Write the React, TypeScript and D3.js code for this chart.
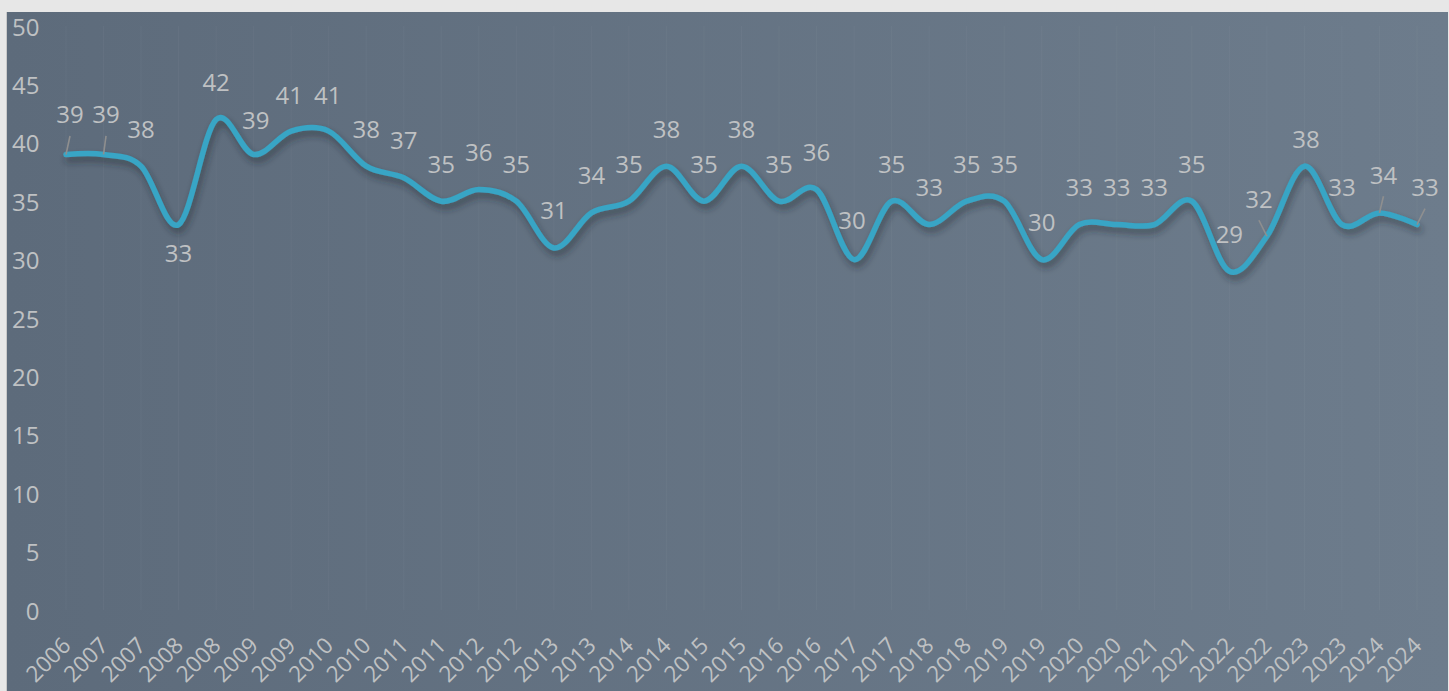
import React from "react";
import * as d3 from "d3";

// Half-yearly readings, labelled by year
const categories: string[] = [
  "2006", "2007", "2007", "2008", "2008", "2009", "2009", "2010", "2010",
  "2011", "2011", "2012", "2012", "2013", "2013", "2014", "2014", "2015",
  "2015", "2016", "2016", "2017", "2017", "2018", "2018", "2019", "2019",
  "2020", "2020", "2021", "2021", "2022", "2022", "2023", "2023", "2024", "2024",
];

const values: number[] = [
  39, 39, 38, 33, 42, 39, 41, 41, 38, 37, 35, 36, 35, 31, 34, 35, 38, 35, 38,
  35, 36, 30, 35, 33, 35, 35, 30, 33, 33, 33, 35, 29, 32, 38, 33, 34, 33,
];

const yTicks: number[] = [0, 5, 10, 15, 20, 25, 30, 35, 40, 45, 50];

// Per-label nudges (px) for data labels that sit off the default spot above the point
const labelNudges: Record<number, [number, number]> = {
  0: [4, -40.5],
  1: [2.5, -40.5],
  3: [0, 27.5],
  5: [2, -34.5],
  6: [-2, -37],
  7: [-1, -37],
  21: [-2, -40],
  32: [-8, -38],
  33: [1.5, -28],
  35: [4, -38.6],
  36: [8, -38],
};
// Labels that were pulled away from their point and get a leader line
const leaderIdx: number[] = [0, 1, 32, 35, 36];

const W = 1449;
const H = 691;
const FONT = "'Open Sans', 'Noto Sans', sans-serif";
const TEXT = "#bfc1c3";

export default function App() {
  const idx = values.map((_, i) => i);
  const x = d3.scalePoint<number>().domain(idx).range([66, 1417]);
  const y = d3.scaleLinear().domain([0, 50]).range([610, 26]);

  const line = d3
    .line<number>()
    .x((_, i) => x(i) as number)
    .y((d) => y(d))
    .curve(d3.curveCatmullRom.alpha(0));

  const path = line(values) || "";

  return (
    <div style={{ position: "fixed", left: 0, top: 0, width: W, height: H, background: "#e7e7e7" }}>
      <svg width={W} height={H} style={{ display: "block" }}>
        <defs>
          <linearGradient id="bg" x1="0" y1="0" x2="1" y2="0">
            <stop offset="0%" stopColor="#5d6b7b" />
            <stop offset="100%" stopColor="#6d7c8c" />
          </linearGradient>
          <filter id="shadow" x="-5%" y="-30%" width="110%" height="160%">
            <feDropShadow dx="2" dy="5" stdDeviation="3.5" floodColor="#1c2630" floodOpacity="0.55" />
          </filter>
        </defs>

        <rect x={0} y={0} width={W} height={H} fill="#e7e7e7" />
        <rect x={6} y={12} width={W - 7} height={H - 12} fill="#c9c9c9" />
        <rect x={7} y={12} width={W - 8} height={H - 12} fill="url(#bg)" />

        {/* vertical category gridlines */}
        <g>
          {idx.map((i) => (
            <line
              key={"g" + i}
              x1={x(i)}
              x2={x(i)}
              y1={y(50)}
              y2={y(0)}
              stroke="#ffffff"
              strokeOpacity={0.035}
              strokeWidth={1}
            />
          ))}
        </g>

        {/* value axis labels */}
        <g fontFamily={FONT} fontSize={24} fill={TEXT}>
          {yTicks.map((t) => (
            <text key={"y" + t} x={39.5} y={y(t)} textAnchor="end" dominantBaseline="central">
              {t}
            </text>
          ))}
        </g>

        {/* category axis labels */}
        <g fontFamily={FONT} fontSize={22.5} fill={TEXT}>
          {categories.map((c, i) => (
            <text
              key={"x" + i}
              transform={`translate(${(x(i) as number) + 6},647) rotate(-45)`}
              textAnchor="end"
            >
              {c}
            </text>
          ))}
        </g>

        {/* series line */}
        <path
          d={path}
          fill="none"
          stroke="#37a5c5"
          strokeWidth={5.5}
          strokeLinecap="round"
          strokeLinejoin="round"
          filter="url(#shadow)"
        />

        {/* leader lines */}
        <g stroke="#8f8f8f" strokeWidth={1.6}>
          {leaderIdx.map((i) => {
            const [dx, dy] = labelNudges[i] || [0, -38];
            const px = x(i) as number;
            const py = y(values[i]);
            return <line key={"l" + i} x1={px + dx} y1={py + dy + 22} x2={px} y2={py} />;
          })}
        </g>

        {/* data labels */}
        <g fontFamily={FONT} fontSize={24} fill={TEXT}>
          {values.map((v, i) => {
            const [dx, dy] = labelNudges[i] || [0, -38];
            return (
              <text
                key={"d" + i}
                x={(x(i) as number) + dx}
                y={y(v) + dy}
                textAnchor="middle"
                dominantBaseline="central"
              >
                {v}
              </text>
            );
          })}
        </g>
      </svg>
    </div>
  );
}
